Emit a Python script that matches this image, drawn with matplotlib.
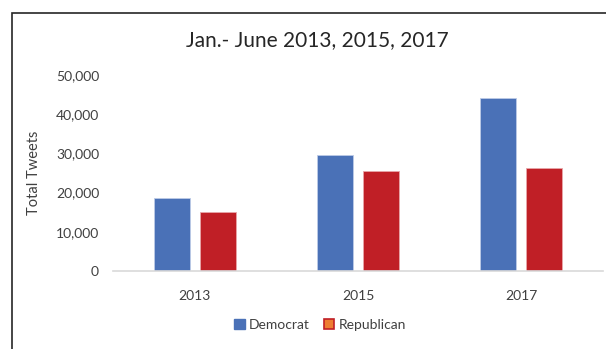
import matplotlib
matplotlib.use("Agg")
import matplotlib.pyplot as plt
import numpy as np
from matplotlib.patches import Rectangle, Patch

plt.rcParams['font.family'] = ['Lato', 'DejaVu Sans']

years = ["2013", "2015", "2017"]
democrat = [18600, 29600, 44200]
republican = [15100, 25500, 26200]
yticks = [0, 10000, 20000, 30000, 40000, 50000]

blue = "#4A71B7"
red = "#C01F26"
orange = "#ED7D31"

fig = plt.figure(figsize=(6.06, 3.49), dpi=100)
ax = fig.add_axes([113/606, 1-271/349, 490/606, 196/349])

x = np.arange(len(years))
w = 0.222
off = 0.141
ax.bar(x - off, democrat, width=w, color=blue, edgecolor="#BCCBE6", linewidth=0.6)
ax.bar(x + off, republican, width=w, color=red, edgecolor="#E8A6A9", linewidth=0.6)

ax.set_xlim(-0.5, 2.5)
ax.set_ylim(0, 50000)
ax.set_yticks(yticks)
ax.set_yticklabels([f"{v:,}" for v in yticks], fontsize=10, color="#404040")
ax.set_xticks(x)
ax.set_xticklabels(years, fontsize=10, color="#404040")
ax.tick_params(axis='y', length=0, pad=10)
ax.tick_params(axis='x', length=0, pad=14)
for s in ["top", "right", "left"]:
    ax.spines[s].set_visible(False)
ax.spines["bottom"].set_color("#D9D9D9")
ax.spines["bottom"].set_linewidth(1.2)

ax.set_ylabel("Total Tweets", fontsize=10.5, color="#404040")
ax.yaxis.set_label_coords(-(113-41)/490, 0.5)

fig.text(317/606, 1-40/349, "Jan.- June 2013, 2015, 2017", ha="center", va="center",
         fontsize=15, color="#262626")

handles = [Patch(facecolor=blue, edgecolor=blue, label="Democrat"),
           Patch(facecolor=orange, edgecolor=red, linewidth=1.2, label="Republican")]
fig.legend(handles=handles, loc="center", bbox_to_anchor=(320/606, 1-325/349), ncol=2,
           frameon=False, fontsize=10, handlelength=0.75, handleheight=0.75,
           handletextpad=0.3, columnspacing=1.0, labelcolor="#404040")

frame = Rectangle((12/606, -0.1), 1.2, 1-13/349+0.1, transform=fig.transFigure,
                  fill=False, edgecolor="#262626", linewidth=1.2)
fig.patches.append(frame)

fig.savefig("out.png", dpi=100)
